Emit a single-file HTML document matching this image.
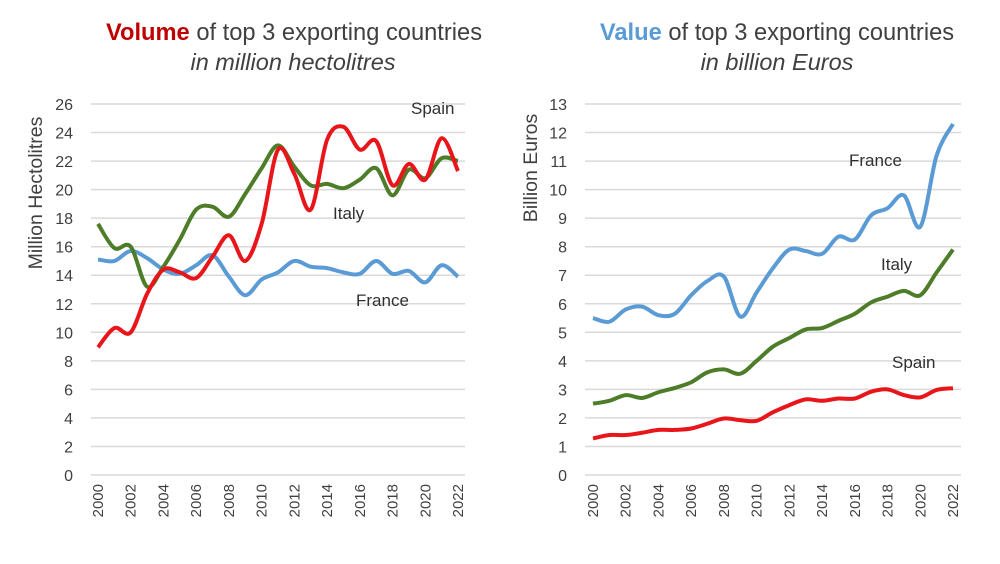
<!DOCTYPE html>
<html><head><meta charset="utf-8"><style>
body{margin:0;background:#fff;font-family:"Liberation Sans",sans-serif}
svg{display:block}
</style></head><body>
<svg id="chart" width="1000" height="564" font-family="Liberation Sans, sans-serif">
<text x="294" y="40" text-anchor="middle" font-size="23.7" fill="#404040"><tspan font-weight="bold" fill="#c00000">Volume</tspan> of top 3 exporting countries</text>
<text x="293" y="70" text-anchor="middle" font-size="23.5" font-style="italic" fill="#404040">in million hectolitres</text>
<text x="777" y="40" text-anchor="middle" font-size="23.7" fill="#404040"><tspan font-weight="bold" fill="#5b9bd5">Value</tspan> of top 3 exporting countries</text>
<text x="777" y="70" text-anchor="middle" font-size="23.5" font-style="italic" fill="#404040">in billion Euros</text>
<text transform="translate(42,193) rotate(-90)" text-anchor="middle" font-size="19.5" fill="#404040">Million Hectolitres</text>
<text transform="translate(537,168) rotate(-90)" text-anchor="middle" font-size="19.5" fill="#404040">Billion Euros</text>
<g id="left"></g><g id="right"></g>
</svg>
<script>
const years=[2000,2001,2002,2003,2004,2005,2006,2007,2008,2009,2010,2011,2012,2013,2014,2015,2016,2017,2018,2019,2020,2021,2022];
const volSpain=[8.95,10.3,10.0,12.7,14.4,14.2,13.8,15.3,16.8,15.0,17.6,22.8,21.1,18.6,23.5,24.4,22.8,23.4,20.3,21.8,20.7,23.6,21.3];
const volItaly=[17.6,15.9,16.0,13.2,14.6,16.5,18.6,18.8,18.1,19.7,21.5,23.1,21.6,20.3,20.4,20.1,20.7,21.5,19.6,21.4,20.8,22.2,22.0];
const volFrance=[15.1,15.0,15.7,15.2,14.4,14.1,14.7,15.4,13.9,12.6,13.7,14.2,15.0,14.6,14.5,14.2,14.1,15.0,14.1,14.3,13.5,14.7,13.9];
const valFrance=[5.5,5.37,5.8,5.9,5.6,5.65,6.3,6.8,6.95,5.55,6.4,7.25,7.9,7.85,7.75,8.35,8.25,9.1,9.35,9.8,8.7,11.2,12.3];
const valItaly=[2.5,2.6,2.8,2.7,2.9,3.05,3.25,3.6,3.7,3.55,4.0,4.5,4.8,5.1,5.15,5.4,5.65,6.05,6.25,6.45,6.3,7.1,7.9];
const valSpain=[1.28,1.4,1.4,1.48,1.58,1.58,1.63,1.8,1.98,1.92,1.9,2.2,2.45,2.65,2.6,2.68,2.68,2.92,3.0,2.8,2.72,2.98,3.04];
const leftTicks=[0,2,4,6,8,10,12,14,16,18,20,22,24,26];
const rightTicks=[0,1,2,3,4,5,6,7,8,9,10,11,12,13];
const xTickYears=[2000,2002,2004,2006,2008,2010,2012,2014,2016,2018,2020,2022];
const NS="http://www.w3.org/2000/svg";
function mk(p,t,a){const e=document.createElementNS(NS,t);for(const k in a)e.setAttribute(k,a[k]);p.appendChild(e);return e;}
function path(pts){let d="M"+pts[0][0]+","+pts[0][1];for(let i=0;i<pts.length-1;i++){const p0=pts[i-1]||pts[i],p1=pts[i],p2=pts[i+1],p3=pts[i+2]||p2;
d+=" C"+(p1[0]+(p2[0]-p0[0])/6)+","+(p1[1]+(p2[1]-p0[1])/6)+" "+(p2[0]-(p3[0]-p1[0])/6)+","+(p2[1]-(p3[1]-p1[1])/6)+" "+p2[0]+","+p2[1];}return d;}
function draw(g,cfg){
 const x=v=>cfg.x0+(v-2000)*(cfg.x1-cfg.x0)/22;
 const y=v=>475-v*371/cfg.max;
 cfg.ticks.forEach(t=>{
  const l=mk(g,"line",{x1:cfg.g0,x2:cfg.g1,y1:y(t),y2:y(t),stroke:"#d9d9d9","stroke-width":1.5});
  
  
  const tx=mk(g,"text",{x:cfg.lx,y:y(t)+6,"text-anchor":"end","font-size":16,fill:"#404040"});tx.textContent=t;
  
  
 });
 xTickYears.forEach(yr=>{
  const tx=mk(g,"text",{transform:"translate("+(x(yr)+5)+",484) rotate(-90)","text-anchor":"end","font-size":15,fill:"#404040"});tx.textContent=yr;
  
  
 });
 cfg.series.forEach(s=>{
  const p=mk(g,"path",{d:path(s.data.map((v,i)=>[x(years[i]),y(v)])),fill:"none",stroke:s.color,"stroke-width":4,"stroke-linejoin":"round"});
  
  
 });
 cfg.labels.forEach(l=>{
  const tx=mk(g,"text",{x:l[1],y:l[2],"font-size":17,fill:"#303030"});tx.textContent=l[0];
  
  
 });
}
draw(document.getElementById("left"),{x0:98,x1:458,g0:91,g1:465,lx:73,max:26,ticks:leftTicks,
 series:[{name:"france-volume-line",data:volFrance,color:"#5b9bd5"},{name:"italy-volume-line",data:volItaly,color:"#4e7d29"},{name:"spain-volume-line",data:volSpain,color:"#e8161b"}],
 labels:[["Spain",411,114],["Italy",333,219],["France",356,306]]});
draw(document.getElementById("right"),{x0:593,x1:953,g0:585,g1:961,lx:567,max:13,ticks:rightTicks,
 series:[{name:"france-value-line",data:valFrance,color:"#5b9bd5"},{name:"italy-value-line",data:valItaly,color:"#4e7d29"},{name:"spain-value-line",data:valSpain,color:"#e8161b"}],
 labels:[["France",849,166],["Italy",881,270],["Spain",892,368]]});
</script>
</body></html>
